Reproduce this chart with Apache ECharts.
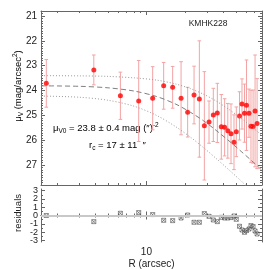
<!DOCTYPE html>
<html><head><meta charset="utf-8">
<script src="https://cdn.jsdelivr.net/npm/echarts@6/dist/echarts.min.js"></script>
<style>html,body{margin:0;padding:0;background:#fff}#c{width:270px;height:270px}</style>
</head><body><div id="c"></div>
<script>
// ---- data ----
var radius = [1.65,3.88,6.26,8.70,11.19,13.64,16.03,18.65,21.0,23.56,25.91,28.35,30.84,33.32,35.81,38.47,40.83,43.24,45.80,48.33,50.38,53.36,55.82,58.38,60.52,63.30,65.61,68.14,70.63,73.22];
var mu = [23.71,23.17,24.21,24.42,24.31,23.81,23.87,24.31,24.87,24.18,24.34,25.42,25.27,24.98,24.90,25.46,25.48,25.62,25.74,26.08,25.66,25.02,24.54,24.91,24.59,24.91,25.44,25.45,24.82,25.33];
var muErr = [0.96,0.60,0.95,1.63,1.27,0.94,0.84,1.47,1.00,1.16,2.34,2.18,0.85,1.07,1.19,1.30,1.15,1.10,1.20,1.10,1.00,0.97,1.01,1.17,1.82,0.97,1.45,1.47,2.25,1.81];
var resid = [0.00,-0.74,0.27,0.35,0.11,-0.58,-0.62,-0.30,0.06,-0.82,-0.82,0.23,-0.10,-0.54,-0.74,-0.22,-0.30,-0.30,-0.25,-0.06,-0.46,-1.30,-1.75,-2.03,-1.82,-1.63,-1.22,-1.34,-1.87,-2.23];
var curveR = [1.5,3,5,8,12,17,22,28,35,45,55,65,80];
var modelMu = [23.81,23.83,23.89,24.02,24.24,24.55,24.87,25.22,25.60,26.06,26.45,26.78,27.21];
var upperMu = [23.40,23.41,23.43,23.49,23.58,23.74,23.92,24.15,24.42,24.79,25.12,25.41,25.81];
var lowerR = [1.5,3,5,8,12,17,22,28,35,45,55,62];
var lowerMu = [24.22,24.27,24.39,24.63,25.00,25.46,25.87,26.30,26.73,27.23,27.64,27.90];
// ---- ticks ----
var xMinorTicks = [2,3,4,5,6,7,8,9,20,30,40,50,60,70];
var xMajorTicks = [10];
var yMainTicks = [21,22,23,24,25,26,27];
var yResTicks = [-3,-2,-1,0,1,2,3];
var yResLabelsOdd = [-3,-1,1,3];
var yResLabelsEven = [-2,0,2];
var yResMinor = [-2.5,-1.5,-0.5,0.5,1.5,2.5];

var AX = '#666', TXT = '#222', FONT = 'Liberation Sans';

function xAx(grid, pos, ticks, len, lineShow, label) {
  var a = {type:'log', logBase:10, gridIndex:grid, position:pos, min:1.5, max:80,
    axisLine:{show:lineShow, lineStyle:{color:AX, width:1}},
    axisTick:{show:true, inside:true, length:len, customValues:ticks, lineStyle:{color:AX, width:1}},
    axisLabel:{show:false}, splitLine:{show:false}, minorTick:{show:false}};
  if (label) {
    a.axisLabel = {show:true, customValues:ticks, fontSize:10, color:TXT, fontFamily:FONT, margin:5};
    a.name = 'R (arcsec)'; a.nameLocation = 'middle'; a.nameGap = 17;
    a.nameTextStyle = {fontSize:10, color:TXT, fontFamily:FONT};
  }
  return a;
}
function yMain(pos, major, label) {
  var a = {type:'value', gridIndex:0, position:pos, inverse:true, min:20.8, max:27.8,
    axisLine:{show:!major, lineStyle:{color:AX, width:1}},
    axisTick:{show:true, inside:true, length: major?4:2, lineStyle:{color:AX, width:1}},
    axisLabel:{show:false}, splitLine:{show:false}};
  if (major) { a.axisTick.customValues = yMainTicks; } else { a.interval = 0.1; }
  if (label) a.axisLabel = {show:true, customValues:yMainTicks, fontSize:10, color:TXT, fontFamily:FONT, margin:4};
  return a;
}
function yRes(pos, ticks, len, lineShow, labels) {
  var a = {type:'value', gridIndex:1, position:pos, min:-3.2, max:3.2,
    axisLine:{show:lineShow, lineStyle:{color:AX, width:1}},
    axisTick:{show:!!ticks, inside:true, length:len, customValues:ticks || [0], lineStyle:{color:AX, width:1}},
    axisLabel:{show:false}, splitLine:{show:false}};
  if (labels) a.axisLabel = {show:true, customValues:labels, interval:0, showMinLabel:true, showMaxLabel:true, hideOverlap:false,
    fontSize:9, color:TXT, fontFamily:FONT, margin:3};
  return a;
}

var rich = {
  n:{fontSize:9.5, fontFamily:FONT, color:TXT, lineHeight:13, verticalAlign:'middle'},
  sb:{fontSize:6.5, fontFamily:FONT, color:TXT, lineHeight:9, verticalAlign:'bottom'},
  sp:{fontSize:6.5, fontFamily:FONT, color:TXT, lineHeight:9, verticalAlign:'top'}
};

var chart = echarts.init(document.getElementById('c'), null, {renderer:'canvas'});
chart.setOption({
  animation:false,
  backgroundColor:'#fff',
  grid:[{left:41, right:8, top:11, height:174}, {left:41, right:8, top:189, height:53}],
  xAxis:[
    xAx(0,'bottom',xMinorTicks,2,true,false), xAx(0,'top',xMinorTicks,2,true,false),
    xAx(0,'bottom',xMajorTicks,4,false,false), xAx(0,'top',xMajorTicks,4,false,false),
    xAx(1,'bottom',xMinorTicks,2,true,false), xAx(1,'top',xMinorTicks,2,true,false),
    xAx(1,'bottom',xMajorTicks,4,false,true), xAx(1,'top',xMajorTicks,4,false,false)
  ],
  yAxis:[
    yMain('left',false,false), yMain('right',false,false), yMain('left',true,true), yMain('right',true,false),
    yRes('left',yResMinor,2,true,null), yRes('right',yResMinor,2,true,null),
    yRes('left',yResTicks,4,false,yResLabelsOdd), yRes('right',yResTicks,4,false,null),
    yRes('left',null,0,false,yResLabelsEven)
  ],
  graphic:[
    {type:'text', x:208, y:24, style:{text:'KMHK228', fontSize:8.5, fontFamily:FONT, fill:TXT, align:'center', verticalAlign:'middle'}},
    {type:'text', x:53, y:128, style:{text:'{n|μ}{sb|V0}{n| = 23.8 ± 0.4 mag (″)}{sp|-2}', rich:rich, align:'left', verticalAlign:'middle'}},
    {type:'text', x:89, y:145, style:{text:'{n|r}{sb|c}{n| = 17 ± 11  ″}', rich:rich, align:'left', verticalAlign:'middle'}},
    {type:'text', x:18, y:86, rotation:Math.PI/2, style:{text:'{n|μ}{sb|V}{n| (mag/arcsec}{sp|2}{n|)}', rich:rich, align:'center', verticalAlign:'middle'}},
    {type:'text', x:18, y:213, rotation:Math.PI/2, style:{text:'residuals', fontSize:9.5, fontFamily:FONT, fill:TXT, align:'center', verticalAlign:'middle'}}
  ],
  series:[
    {type:'line', xAxisIndex:0, yAxisIndex:0, data:curveR.map(function(r,i){return [r, upperMu[i]];}), smooth:0.3, symbol:'none', lineStyle:{color:'#9a9a9a', width:1, type:[1,2]}},
    {type:'line', xAxisIndex:0, yAxisIndex:0, data:curveR.map(function(r,i){return [r, modelMu[i]];}), smooth:0.3, symbol:'none', lineStyle:{color:'#808080', width:1, type:[5,3]}},
    {type:'line', xAxisIndex:0, yAxisIndex:0, data:lowerR.map(function(r,i){return [r, lowerMu[i]];}), smooth:0.3, symbol:'none', lineStyle:{color:'#9a9a9a', width:1, type:[1,2]}},
    {type:'custom', xAxisIndex:0, yAxisIndex:0, encode:{x:0, y:1},
      data: radius.map(function(r,i){return [r, mu[i], muErr[i]];}),
      renderItem:function(params, api){
        var x = api.value(0), y = api.value(1), e = api.value(2);
        var t = api.coord([x, y - e]), b = api.coord([x, y + e]);
        var w = 1.8, st = {stroke:'#f4a3a3', lineWidth:1};
        return {type:'group', children:[
          {type:'line', shape:{x1:t[0], y1:t[1], x2:b[0], y2:b[1]}, style:st},
          {type:'line', shape:{x1:t[0]-w, y1:t[1], x2:t[0]+w, y2:t[1]}, style:st},
          {type:'line', shape:{x1:b[0]-w, y1:b[1], x2:b[0]+w, y2:b[1]}, style:st}
        ]};
      }},
    {type:'scatter', xAxisIndex:0, yAxisIndex:0, data:radius.map(function(r,i){return [r, mu[i]];}), symbol:'circle', symbolSize:5, itemStyle:{color:'#ff0000'}},
    {type:'scatter', xAxisIndex:4, yAxisIndex:4, data:radius.map(function(r,i){return [r, resid[i]];}),
      symbol:'path://M0,0L10,10M10,0L0,10M0,0L10,0L10,10L0,10Z', symbolSize:4,
      itemStyle:{color:'rgba(0,0,0,0)', borderColor:'#555', borderWidth:0.8},
      markLine:{silent:true, symbol:'none', label:{show:false}, data:[{yAxis:0}], lineStyle:{color:'#c8c8c8', width:2, type:'solid'}}}
  ]
});
</script></body></html>
